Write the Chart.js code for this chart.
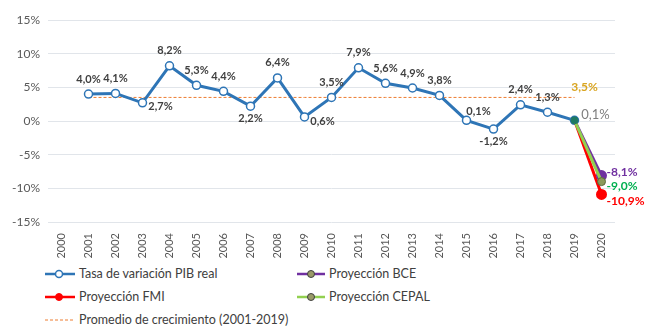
<!DOCTYPE html>
<html>
<head>
<meta charset="utf-8">
<script src="https://cdn.jsdelivr.net/npm/chart.js@4"></script>
<style>
  body { margin: 0; background: #fff; font-family: Lato, "Open Sans", sans-serif; }
  #wrap { position: relative; width: 646px; height: 336px; }
  #chart { position: absolute; left: 0; top: 0; }
  .leg { position: absolute; font-size: 12.5px; color: #404040; display: flex; align-items: center; white-space: nowrap; }
  .leg svg { margin-right: 4px; }
</style>
</head>
<body>
<div id="wrap">
  <canvas id="chart" width="646" height="262"></canvas>
  <div class="leg" style="left:45px; top:266px;">
    <svg width="30" height="12"><line x1="0" y1="6" x2="30" y2="6" stroke="#2E75B6" stroke-width="2.5"/><circle cx="14" cy="6" r="3.5" fill="#fff" stroke="#2E75B6" stroke-width="1.5"/></svg>Tasa de variación PIB real
  </div>
  <div class="leg" style="left:297px; top:266px;">
    <svg width="28" height="12"><line x1="0" y1="6" x2="28" y2="6" stroke="#7030A0" stroke-width="2.5"/><circle cx="14" cy="6" r="3.5" fill="#9A9A68" stroke="#404040" stroke-width="1"/></svg>Proyección BCE
  </div>
  <div class="leg" style="left:45px; top:289px;">
    <svg width="30" height="12"><line x1="0" y1="6" x2="30" y2="6" stroke="#FF0000" stroke-width="2.5"/><circle cx="14" cy="6" r="3.5" fill="#FF0000" stroke="#FF0000" stroke-width="1"/></svg>Proyección FMI
  </div>
  <div class="leg" style="left:297px; top:289px;">
    <svg width="28" height="12"><line x1="0" y1="6" x2="28" y2="6" stroke="#92D050" stroke-width="2.5"/><circle cx="14" cy="6" r="3.5" fill="#9A9A68" stroke="#404040" stroke-width="1"/></svg>Proyección CEPAL
  </div>
  <div class="leg" style="left:45px; top:312px;">
    <svg width="30" height="12"><line x1="0" y1="6" x2="30" y2="6" stroke="#ED7D31" stroke-width="1" stroke-dasharray="3,2"/></svg>Promedio de crecimiento (2001-2019)
  </div>
</div>
<script>
const years = ['2000','2001','2002','2003','2004','2005','2006','2007','2008','2009','2010',
  '2011','2012','2013','2014','2015','2016','2017','2018','2019','2020'];

// tasa de variacion del PIB real (%)
const pibReal = [null, 4.0, 4.1, 2.7, 8.2, 5.3, 4.4, 2.2, 6.4, 0.6, 3.5,
  7.9, 5.6, 4.9, 3.8, 0.1, -1.2, 2.4, 1.3, 0.1, null];

const proyBCE   = [null,null,null,null,null,null,null,null,null,null,null,null,null,null,null,null,null,null,null, 0.1, -8.1];
const proyFMI   = [null,null,null,null,null,null,null,null,null,null,null,null,null,null,null,null,null,null,null, 0.1, -10.9];
const proyCEPAL = [null,null,null,null,null,null,null,null,null,null,null,null,null,null,null,null,null,null,null, 0.1, -9.0];

const promedio = [null, 3.5, 3.5, 3.5, 3.5, 3.5, 3.5, 3.5, 3.5, 3.5, 3.5,
  3.5, 3.5, 3.5, 3.5, 3.5, 3.5, 3.5, 3.5, 3.5, null];

const yTicks = [-15, -10, -5, 0, 5, 10, 15];

// donde va cada etiqueta: a = arriba, b = abajo, r = derecha, ar = arriba-derecha
const labelPos = ['', 'a', 'a', 'r', 'a', 'a', 'a', 'b', 'a', 'r', 'a',
  'a', 'a', 'a', 'a', 'ar', 'b', 'a', 'a', 'g', ''];

const fmt = v => v.toFixed(1).replace('.', ',') + '%';

const labelsPlugin = {
  id: 'etiquetas',
  afterDatasetsDraw(chart) {
    const ctx = chart.ctx;
    ctx.save();
    ctx.textBaseline = 'middle';
    ctx.textAlign = 'center';
    const meta = chart.getDatasetMeta(0);
    pibReal.forEach((v, i) => {
      if (v === null) return;
      const p = meta.data[i];
      let x = p.x, y = p.y;
      ctx.font = 'bold 11px Lato, "Open Sans", sans-serif';
      ctx.fillStyle = '#404040';
      const pos = labelPos[i];
      if (pos === 'a') { y -= 15; }
      else if (pos === 'b') { y += 12; }
      else if (pos === 'r') { x += 18; y += 4; }
      else if (pos === 'ar') { x += 12; y -= 9; }
      else if (pos === 'g') {
        x += 21; y -= 6;
        ctx.font = '13px Lato, "Open Sans", sans-serif';
        ctx.fillStyle = '#7F7F7F';
      }
      ctx.fillText(fmt(v), x, y);
    });

    // promedio
    const avgMeta = chart.getDatasetMeta(1);
    const last = avgMeta.data[19];
    ctx.font = 'bold 12px Lato, "Open Sans", sans-serif';
    ctx.fillStyle = '#D9A521';
    ctx.fillText(fmt(promedio[19]), last.x + 10, last.y - 10);

    // proyecciones 2020
    ctx.textAlign = 'left';
    ctx.font = 'bold 12px Lato, "Open Sans", sans-serif';
    const proj = [[2, proyBCE, '#7030A0', -3], [4, proyCEPAL, '#00B050', 5], [3, proyFMI, '#FF0000', 7]];
    proj.forEach(([di, arr, col, dy]) => {
      const p = chart.getDatasetMeta(di).data[20];
      ctx.fillStyle = col;
      ctx.fillText(fmt(arr[20]), p.x + 5, p.y + dy);
    });
    ctx.restore();
  }
};

const chart = document.getElementById('chart');

new Chart(chart, {
  type: 'line',
  data: {
    labels: years,
    datasets: [
      {
        label: 'Tasa de variación PIB real',
        data: pibReal,
        borderColor: '#2E75B6',
        borderWidth: 3,
        pointRadius: 4,
        pointBackgroundColor: '#fff',
        pointBorderColor: '#2E75B6',
        pointBorderWidth: 1.5,
        order: 3
      },
      {
        label: 'Promedio de crecimiento (2001-2019)',
        data: promedio,
        borderColor: '#ED7D31',
        borderWidth: 1,
        borderDash: [3, 2],
        pointRadius: 0,
        order: 4
      },
      {
        label: 'Proyección BCE',
        data: proyBCE,
        borderColor: '#7030A0',
        borderWidth: 3,
        pointRadius: ctx => ctx.dataIndex === 19 ? 0 : 4,
        pointBackgroundColor: '#7030A0',
        pointBorderColor: '#7030A0',
        order: 1
      },
      {
        label: 'Proyección FMI',
        data: proyFMI,
        borderColor: '#FF0000',
        borderWidth: 3,
        pointRadius: ctx => ctx.dataIndex === 19 ? 0 : 4,
        pointBackgroundColor: '#FF0000',
        pointBorderColor: '#FF0000',
        order: 1
      },
      {
        label: 'Proyección CEPAL',
        data: proyCEPAL,
        borderColor: '#92D050',
        borderWidth: 3,
        pointRadius: ctx => ctx.dataIndex === 19 ? 3.5 : 4,
        pointBackgroundColor: ctx => ctx.dataIndex === 19 ? '#1F7A63' : '#8C9A5B',
        pointBorderColor: ctx => ctx.dataIndex === 19 ? '#1F7A63' : '#5A6A3A',
        pointBorderWidth: 1,
        order: 0
      }
    ]
  },
  options: {
    responsive: false,
    animation: false,
    layout: { padding: { top: 20, left: 4, right: 31, bottom: 0 } },
    plugins: { legend: { display: false }, tooltip: { enabled: false } },
    scales: {
      x: {
        offset: true,
        grid: { display: false },
        border: { display: false },
        ticks: {
          maxRotation: 90, minRotation: 90, autoSkip: false,
          color: '#595959', font: { size: 11, family: 'Lato, "Open Sans", sans-serif' }
        },
        afterFit: s => { s.height = 40; }
      },
      y: {
        min: -15, max: 15,
        afterBuildTicks: s => { s.ticks = yTicks.map(v => ({ value: v })); },
        grid: { color: '#E1E5EA', drawTicks: false },
        border: { display: false },
        ticks: {
          padding: 8,
          color: '#595959', font: { size: 12, family: 'Lato, "Open Sans", sans-serif' },
          callback: v => v + '%'
        },
        afterFit: s => { s.width = 44; }
      }
    }
  },
  plugins: [labelsPlugin]
});
</script>
</body>
</html>
